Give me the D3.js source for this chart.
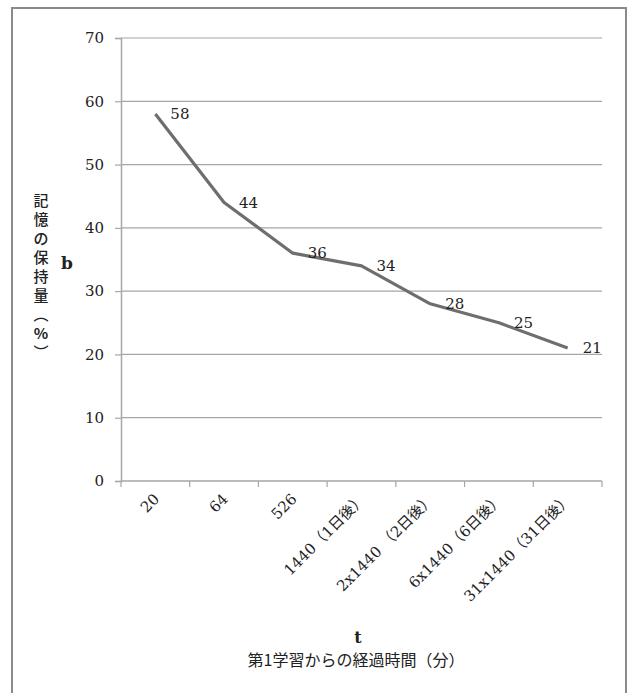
<!DOCTYPE html>
<html>
<head>
<meta charset="utf-8">
<script src="https://cdn.jsdelivr.net/npm/d3@7"></script>
<style>
  html, body { margin: 0; padding: 0; background: #fff; }
  svg { display: block; }
  .serif { font-family: "DejaVu Serif", "Liberation Serif", "Noto Sans CJK JP", serif; }
  .cjk { font-family: "Noto Sans CJK JP", "DejaVu Serif", sans-serif; }
</style>
</head>
<body>
<svg id="chart" width="629" height="693"></svg>
<script>
// Retention after first study, by elapsed minutes
const categories = ["20", "64", "526", "1440（1日後）", "2x1440 （2日後）", "6x1440（6日後）", "31x1440（31日後）"];
const retention = [58, 44, 36, 34, 28, 25, 21];
const yTicks = [0, 10, 20, 30, 40, 50, 60, 70];

const svg = d3.select("#chart");
const W = 629, H = 693;
const m = { left: 121, right: 27, top: 38, bottom: 212 };
const iw = W - m.left - m.right;
const ih = H - m.top - m.bottom;

// outer frame
svg.append("rect")
  .attr("x", 12).attr("y", 8)
  .attr("width", 614).attr("height", 700)
  .attr("fill", "none").attr("stroke", "#8a8a8a").attr("stroke-width", 2);

const g = svg.append("g").attr("transform", `translate(${m.left},${m.top})`);

const x = d3.scaleBand().domain(categories).range([0, iw]).padding(0);
const y = d3.scaleLinear().domain([0, 70]).range([ih, 0]);

// horizontal gridlines
g.append("g").selectAll("line").data(yTicks.filter(d => d > 0)).join("line")
  .attr("x1", 0).attr("x2", iw)
  .attr("y1", d => y(d)).attr("y2", d => y(d))
  .attr("stroke", "#a6a6a6").attr("stroke-width", 1.2);

// y axis
const yAxis = g.append("g")
  .call(d3.axisLeft(y).tickValues(yTicks).tickSize(6).tickPadding(11).tickFormat(d3.format("d")));
yAxis.attr("font-family", null);
yAxis.select(".domain").attr("stroke", "#a6a6a6").attr("stroke-width", 1.5);
yAxis.selectAll(".tick line").attr("stroke", "#a6a6a6").attr("stroke-width", 1.2);
yAxis.selectAll("text").attr("class", "serif").attr("font-size", 15).attr("fill", "#222");

// x axis with ticks on band edges
const xAxisG = g.append("g").attr("transform", `translate(0,${ih})`);
xAxisG.append("line").attr("x1", 0).attr("x2", iw).attr("y1", 0).attr("y2", 0)
  .attr("stroke", "#a6a6a6").attr("stroke-width", 1.5);
const edges = categories.map(c => x(c)).concat([iw]);
xAxisG.selectAll("line.edge").data(edges).join("line").attr("class", "edge")
  .attr("x1", d => d).attr("x2", d => d).attr("y1", 0).attr("y2", 6)
  .attr("stroke", "#a6a6a6").attr("stroke-width", 1.2);
xAxisG.selectAll("text.cat").data(categories).join("text").attr("class", "cat serif")
  .attr("transform", d => `translate(${x(d) + x.bandwidth() / 2 + 5},${19}) rotate(-45)`)
  .attr("text-anchor", "end")
  .attr("font-size", 15).attr("fill", "#222")
  .text(d => d);

// line
const line = d3.line()
  .x((d, i) => x(categories[i]) + x.bandwidth() / 2)
  .y(d => y(d));
g.append("path").datum(retention)
  .attr("d", line)
  .attr("fill", "none").attr("stroke", "#6e6e6e").attr("stroke-width", 3.2)
  .attr("stroke-linejoin", "round");

// value labels
g.selectAll("text.val").data(retention).join("text").attr("class", "val serif")
  .attr("x", (d, i) => x(categories[i]) + x.bandwidth() / 2 + 15)
  .attr("y", d => y(d) + 5)
  .attr("font-size", 15).attr("fill", "#222")
  .text(d => d);

// y axis title (vertical)
const yChars = ["記", "憶", "の", "保", "持", "量", "︵", "%", "︶"];
svg.append("g").selectAll("text").data(yChars).join("text")
  .attr("class", "cjk")
  .attr("x", 41)
  .attr("y", (d, i) => 206 + i * 19)
  .attr("text-anchor", "middle")
  .attr("font-weight", d => d === "%" ? 700 : 500)
  .attr("font-size", 15).attr("fill", "#222")
  .text(d => d);
svg.append("text").attr("class", "serif").attr("x", 67).attr("y", 269).attr("text-anchor", "middle")
  .attr("font-weight", 700).attr("font-size", 17).attr("fill", "#222")
  .text("b");

// x axis title
svg.append("text").attr("class", "serif").attr("x", 358).attr("y", 643).attr("text-anchor", "middle")
  .attr("font-weight", 700).attr("font-size", 16).attr("fill", "#222")
  .text("t");
svg.append("text").attr("class", "cjk").attr("x", 356).attr("y", 666).attr("text-anchor", "middle")
  .attr("font-size", 16).attr("fill", "#222")
  .text("第1学習からの経過時間（分）");
</script>
</body>
</html>
